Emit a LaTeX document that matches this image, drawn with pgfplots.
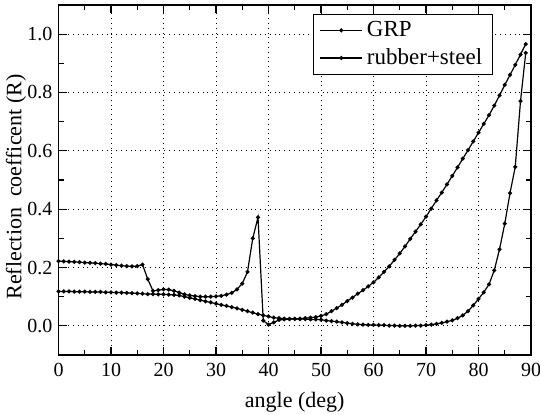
\documentclass[border=0pt]{standalone}
\usepackage{pgfplots}
\pgfplotsset{compat=1.18}
\usepackage{fontspec}
\setmainfont{Liberation Serif}
\pgfplotstableread{
x y
0 0.222
1 0.221
2 0.220
3 0.219
4 0.218
5 0.217
6 0.216
7 0.215
8 0.213
9 0.212
10 0.210
11 0.208
12 0.206
13 0.205
14 0.204
15 0.205
16 0.210
17 0.160
18 0.120
19 0.122
20 0.125
21 0.124
22 0.120
23 0.114
24 0.108
25 0.104
26 0.102
27 0.100
28 0.100
29 0.100
30 0.101
31 0.103
32 0.107
33 0.113
34 0.125
35 0.145
36 0.185
37 0.300
38 0.372
39 0.018
40 0.004
41 0.012
42 0.020
43 0.022
44 0.023
45 0.024
46 0.025
47 0.026
48 0.028
49 0.030
50 0.034
51 0.040
52 0.050
53 0.061
54 0.072
55 0.085
56 0.097
57 0.110
58 0.122
59 0.135
60 0.149
61 0.166
62 0.185
63 0.204
64 0.226
65 0.248
66 0.272
67 0.298
68 0.323
69 0.348
70 0.374
71 0.402
72 0.430
73 0.457
74 0.485
75 0.514
76 0.543
77 0.573
78 0.602
79 0.632
80 0.662
81 0.692
82 0.722
83 0.755
84 0.790
85 0.826
86 0.860
87 0.895
88 0.930
89 0.966
}\grp
\pgfplotstableread{
x y
0 0.118
1 0.118
2 0.118
3 0.117
4 0.117
5 0.117
6 0.116
7 0.116
8 0.116
9 0.115
10 0.115
11 0.114
12 0.114
13 0.113
14 0.112
15 0.111
16 0.110
17 0.109
18 0.109
19 0.108
20 0.108
21 0.107
22 0.106
23 0.104
24 0.100
25 0.096
26 0.092
27 0.088
28 0.084
29 0.080
30 0.076
31 0.072
32 0.068
33 0.064
34 0.060
35 0.055
36 0.050
37 0.045
38 0.040
39 0.036
40 0.032
41 0.028
42 0.026
43 0.025
44 0.024
45 0.024
46 0.023
47 0.023
48 0.022
49 0.022
50 0.021
51 0.018
52 0.016
53 0.014
54 0.012
55 0.009
56 0.007
57 0.005
58 0.004
59 0.003
60 0.003
61 0.002
62 0.002
63 0.001
64 0.001
65 0.000
66 0.000
67 0.000
68 0.001
69 0.001
70 0.002
71 0.004
72 0.007
73 0.010
74 0.014
75 0.019
76 0.026
77 0.036
78 0.050
79 0.070
80 0.092
81 0.115
82 0.142
83 0.190
84 0.262
85 0.350
86 0.455
87 0.545
88 0.770
89 0.936
}\rubber
\begin{document}
\begin{tikzpicture}
\begin{axis}[
  name=ax,
  scale only axis,
  width=236.25pt, height=175pt,
  xmin=0, xmax=90, ymin=-0.1, ymax=1.1,
  xtick={0,10,...,90},
  ytick={0,0.2,0.4,0.6,0.8,1.0},
  minor x tick num=1, minor y tick num=1,
  tick align=inside,
  major tick length=4pt, minor tick length=2.5pt,
  axis line style={line width=0.9pt},
  every tick/.style={black, line width=0.6pt},
  grid=major,
  major grid style={dotted, black, line width=0.5pt},
  /pgf/number format/assume math mode=true,
  tick label style={font=\fontsize{10}{12}\selectfont},
  xticklabel style={anchor=base, yshift=-11pt},
  yticklabel style={/pgf/number format/fixed, /pgf/number format/fixed zerofill, /pgf/number format/precision=1, xshift=0.5pt},
  xlabel={angle (deg)},
  ylabel={Reflection\ \ coefficent (R)},
  label style={font=\fontsize{11}{13}\selectfont},
  xlabel style={at={(axis description cs:0.5,0)}, anchor=base, yshift=-26.5pt},
  ylabel style={at={(axis description cs:-0.09,0.48)}, anchor=center},
  legend style={at={(0.539,0.975)}, anchor=north west, draw=black, line width=0.5pt,
    font=\fontsize{11.5}{14}\selectfont, inner xsep=3pt, inner ysep=1.5pt, row sep=0.5pt, cells={anchor=west}},
  legend image code/.code={\draw[mark repeat=2,mark phase=2,#1] plot coordinates {(0cm,0cm) (0.37cm,0cm) (0.74cm,0cm)};},
  legend image post style={line width=0.6pt},
]
\addplot[black, line width=0.6pt, mark=*, mark size=0.7pt] table[x=x,y=y] {\grp};
\addlegendentry{GRP}
\addplot[black, line width=0.6pt, mark=*, mark size=0.7pt] table[x=x,y=y] {\rubber};
\addlegendentry{rubber+steel}
\end{axis}
\pgfresetboundingbox
\path[use as bounding box] ([xshift=-29.25pt,yshift=-30pt]ax.south west) rectangle ([xshift=4.5pt,yshift=2.5pt]ax.north east);
\end{tikzpicture}
\end{document}
